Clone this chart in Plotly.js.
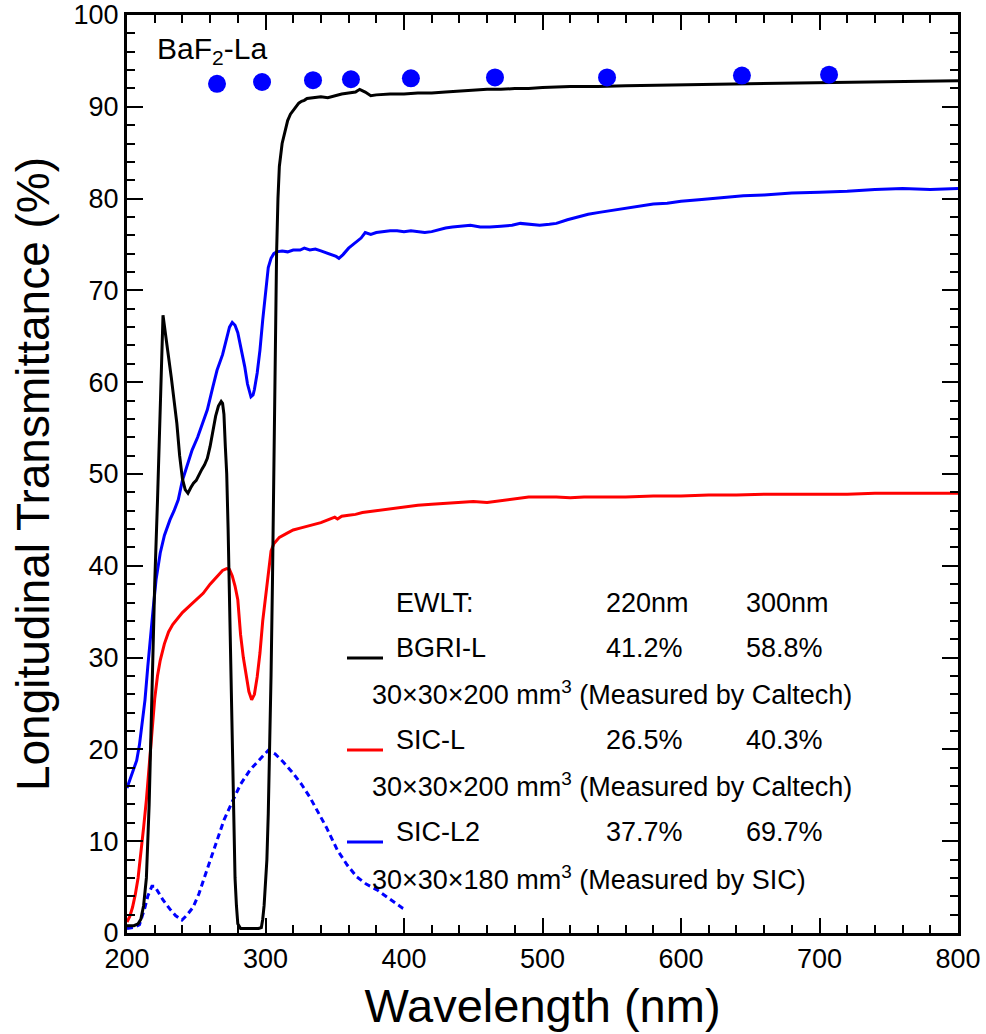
<!DOCTYPE html>
<html>
<head>
<meta charset="utf-8">
<script src="https://cdn.plot.ly/plotly-3.0.1.min.js"></script>
<style>html,body{margin:0;padding:0;background:#fff;}#chart{width:986px;height:1034px;}</style>
</head>
<body>
<div id="chart"></div>
<script>
// BGRI-L (black)
const bgriX = [200,205,208,210,212,214,216,218,220,222,224,225,226,228,230,232,234,236,238,240,242,244,246,248,250,252,254,256,258,260,262,264,266,268,269,270,271,272,273,274,275,276,277,278,279,280,282,285,290,295,297,298,299,300,301,302,303,304,305,306,307,308,309,310,312,314,316,318,320,322,324,326,328,330,335,340,345,350,355,360,365,368,372,376,380,390,400,410,420,430,440,450,460,470,480,490,500,520,540,560,580,600,620,640,660,680,700,720,740,760,780,800];
const bgriY = [0.8,0.8,1.0,1.5,3,6,14,27,38,47,58,63,67.3,65,63,60.5,58,55.5,52,49.5,48.3,47.9,48.5,49,49.3,50,50.5,51,51.7,53,54.7,56.3,57.4,57.9,57.7,56.5,53,50,44,36,27,18,11,6,3,1,0.5,0.5,0.5,0.5,0.6,1.5,3,5,8,13,20,28,38,52,65,74,80,83.5,86,87.3,88.5,89.2,89.6,89.9,90.4,90.6,90.7,90.9,91.0,91.1,91.0,91.2,91.4,91.5,91.6,91.9,91.6,91.2,91.3,91.4,91.4,91.5,91.5,91.6,91.7,91.8,91.9,91.9,92.0,92.0,92.1,92.2,92.2,92.3,92.35,92.4,92.45,92.5,92.5,92.55,92.6,92.65,92.7,92.75,92.8,92.85];

// SIC-L (red)
const sicLX = [200,202,204,206,208,210,212,214,216,218,220,222,224,227,230,233,236,240,245,250,255,260,265,269,272,274,276,278,280,282,284,286,288,290,292,294,296,298,300,302,304,306,308,310,315,320,325,330,335,340,345,350,352,355,360,365,370,380,390,400,410,420,430,440,450,460,470,480,490,500,510,520,530,545,560,580,600,620,640,660,680,700,720,740,760,780,800];
const sicLY = [1.2,1.8,2.8,4.2,6,8.5,11.5,14.5,18,21.8,25.5,28,29.7,31.5,32.8,33.6,34.2,34.9,35.6,36.3,37,38,38.9,39.5,39.7,39.6,38.9,37.8,36.3,32.5,30,28,26.3,25.4,26,27.9,30.5,34,36.5,39.5,41.6,42.4,42.8,43.1,43.5,43.9,44.1,44.3,44.5,44.7,45.0,45.3,45.1,45.4,45.5,45.6,45.8,46.0,46.2,46.4,46.6,46.7,46.8,46.9,47.0,46.9,47.1,47.3,47.5,47.5,47.5,47.4,47.5,47.5,47.5,47.6,47.6,47.7,47.7,47.8,47.8,47.8,47.8,47.9,47.9,47.9,47.9];

// SIC-L2 (blue)
const sicL2X = [200,203,205,207,209,211,213,215,217,219,221,224,227,231,234,237,240,243,247,251,254,258,262,265,269,272,274,276,278,280,282,285,287,289.5,291,292,294,296,298,300,302,304,306,308,312,316,320,325,328,332,336,340,344,348,351,353,356,360,363,366,369,372,376,380,385,390,395,400,405,410,415,420,425,430,435,440,448,455,462,470,478,484,490,498,505,510,518,525,533,541,550,560,570,580,590,600,615,630,645,660,680,700,720,740,760,780,800];
const sicL2Y = [15.8,17,17.8,18.8,20.5,22.7,25.4,29,32.5,35.5,38.5,41.4,43.3,45,46,47.2,49.3,50.8,52.6,54,55.3,57,59.5,61.3,63,65,66,66.5,66.2,65.4,64,61.7,59.8,58.4,58.6,59.2,61,63.5,66.8,70,72.5,73.5,74,74.2,74.3,74.2,74.4,74.4,74.6,74.4,74.5,74.3,74.1,73.9,73.7,73.5,73.9,74.6,75.0,75.4,75.7,76.3,76.1,76.3,76.4,76.5,76.5,76.4,76.5,76.4,76.3,76.4,76.6,76.8,76.9,77.0,77.1,76.9,76.9,77.0,77.1,77.3,77.2,77.1,77.2,77.3,77.7,78.0,78.3,78.5,78.7,79.0,79.2,79.4,79.5,79.7,79.9,80.1,80.3,80.4,80.6,80.7,80.8,81.0,81.1,81.0,81.1];

// Emission (dashed blue)
const emisX = [200,205,209,211,213,215,218,220,222,226,231,235,239.7,243,247.7,252,256,260,265,270,276,282,289,295,302,307,313,320,326,332,338,344,352,359,366,373,380.5,390,399,402];
const emisY = [0.5,0.6,0.9,1.8,2.8,4,5.1,5.1,4.6,3.6,2.6,1.9,1.4,1.9,2.8,4.3,6.1,7.9,10.1,12.3,14.3,16.2,17.8,18.8,19.9,19.5,18.6,17.4,16.2,14.8,13.2,11.5,9,7.4,6.1,5.3,4.7,3.7,2.7,2.5];

// BaF2-La (dots)
const bafX = [265,297.5,334.3,361.7,405,465.7,546.6,644,706.9];
const bafY = [92.5,92.7,92.9,93.0,93.1,93.2,93.2,93.4,93.5];

// Legend table text
const tableHeader = ["EWLT:", "220nm", "300nm"];
const crystals = ["BGRI-L", "SIC-L", "SIC-L2"];
const ewlt220 = ["41.2%", "26.5%", "37.7%"];
const ewlt300 = ["58.8%", "40.3%", "69.7%"];
const dims = ["30×30×200 mm<sup>3</sup> (Measured by Caltech)", "30×30×200 mm<sup>3</sup> (Measured by Caltech)", "30×30×180 mm<sup>3</sup> (Measured by SIC)"];
const colors = ["#000000", "#ff0000", "#0000ff"];

const FONT = "Liberation Sans, Arial, sans-serif";

const traces = [
  {x: emisX, y: emisY, mode: 'lines', line: {color: '#0000ff', width: 3, dash: '6px,4px'}, showlegend: false},
  {x: sicLX, y: sicLY, mode: 'lines', line: {color: colors[1], width: 3}, showlegend: false},
  {x: sicL2X, y: sicL2Y, mode: 'lines', line: {color: colors[2], width: 3}, showlegend: false},
  {x: bgriX, y: bgriY, mode: 'lines', line: {color: colors[0], width: 3}, showlegend: false},
  {x: bafX, y: bafY, mode: 'markers', marker: {color: '#0000ff', size: 18}, showlegend: false}
];

const fs = 27;
const annotations = [];
const px2x = p => (p - 127) / 831;
const py2y = p => (933 - p) / 918;
const colX = [px2x(394), px2x(604), px2x(744)];
annotations.push({text: tableHeader[0], x: colX[0], y: py2y(603)});
annotations.push({text: tableHeader[1], x: colX[1], y: py2y(603)});
annotations.push({text: tableHeader[2], x: colX[2], y: py2y(603)});
const rowY = [648, 740, 832];
const dimY = [693, 785, 878];
const shapes = [];
for (let i = 0; i < 3; i++) {
  annotations.push({text: crystals[i], x: colX[0], y: py2y(rowY[i])});
  annotations.push({text: ewlt220[i], x: colX[1], y: py2y(rowY[i])});
  annotations.push({text: ewlt300[i], x: colX[2], y: py2y(rowY[i])});
  annotations.push({text: dims[i], x: px2x(370), y: py2y(dimY[i])});
  shapes.push({type: 'line', xref: 'paper', yref: 'paper', x0: px2x(347), x1: px2x(383),
    y0: py2y(rowY[i] + 10), y1: py2y(rowY[i] + 10), line: {color: colors[i], width: 3}});
}
annotations.push({text: "BaF<sub>2</sub>-La", x: px2x(155), y: py2y(50), font: {size: 30, family: FONT, color: '#000'}});
annotations.forEach(a => {
  a.xref = 'paper'; a.yref = 'paper'; a.xanchor = 'left'; a.yanchor = 'middle';
  a.showarrow = false;
  if (!a.font) a.font = {size: fs, family: FONT, color: '#000'};
});

const layout = {
  width: 986, height: 1034,
  margin: {l: 127, r: 28, t: 15, b: 101},
  paper_bgcolor: '#fff', plot_bgcolor: '#fff',
  font: {family: FONT, color: '#000'},
  showlegend: false,
  xaxis: {
    range: [200, 800], dtick: 100, tick0: 200,
    ticks: 'inside', ticklen: 15, tickwidth: 2, tickcolor: '#000',
    showline: true, linewidth: 3, linecolor: '#000', mirror: 'ticks',
    showgrid: false, zeroline: false,
    tickfont: {size: 27, family: FONT, color: '#000'},
    minor: {dtick: 20, ticks: 'inside', ticklen: 8, tickwidth: 2, tickcolor: '#000', showgrid: false},
    title: {text: 'Wavelength (nm)', font: {size: 47, family: FONT, color: '#000'}, standoff: 16}
  },
  yaxis: {
    range: [0, 100], dtick: 10, tick0: 0,
    ticks: 'inside', ticklen: 16, tickwidth: 2, tickcolor: '#000',
    showline: true, linewidth: 3, linecolor: '#000', mirror: 'ticks',
    showgrid: false, zeroline: false,
    tickfont: {size: 27, family: FONT, color: '#000'},
    minor: {dtick: 2, ticks: 'inside', ticklen: 8, tickwidth: 2, tickcolor: '#000', showgrid: false},
    title: {text: 'Longitudinal Transmittance (%)', font: {size: 46, family: FONT, color: '#000'}, standoff: 10}
  },
  annotations: annotations,
  shapes: shapes
};

Plotly.newPlot('chart', traces, layout, {staticPlot: true, displayModeBar: false});
</script>
</body>
</html>
